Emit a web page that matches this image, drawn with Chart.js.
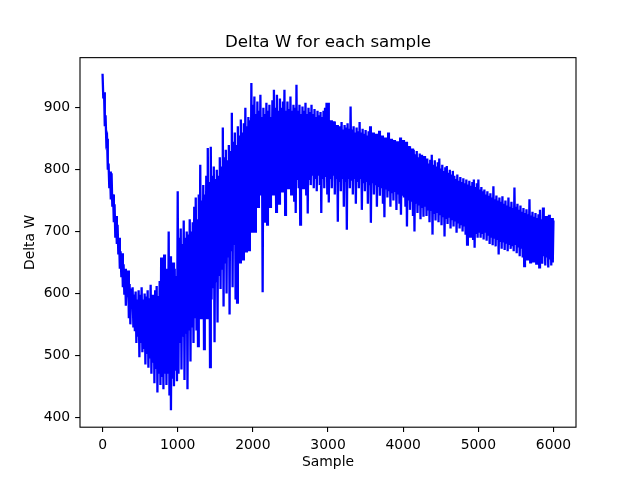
<!DOCTYPE html>
<html>
<head>
<meta charset="utf-8">
<script src="https://cdn.jsdelivr.net/npm/chart.js@4.4.1/dist/chart.umd.min.js"></script>
<style>
  html, body { margin: 0; padding: 0; background: #fff; }
  #wrap { width: 640px; height: 480px; }
</style>
</head>
<body>
<div id="wrap"><canvas id="chart" width="640" height="480"></canvas></div>
<script>
// Delta W: one value per 10 samples, alternating upper / lower swing
const deltaW0 = [
  955, 915, 925, 870, 888, 845, 850, 800, 810, 770, 797, 752, 794, 740, 760, 715, 744, 690, 725, 680,
  711, 663, 690, 640, 668, 626, 665, 610, 647, 598, 640, 580, 625, 594, 637, 560, 615, 550, 608, 575,
  610, 545, 598, 539, 603, 520, 590, 530, 605, 497, 598, 520, 610, 505, 590, 510, 600, 485, 595, 502,
  605, 480, 592, 495, 614, 470, 598, 488, 590, 455, 605, 478, 612, 440, 596, 470, 620, 452, 658, 465,
  610, 445, 663, 470, 620, 452, 640, 470, 700, 435, 660, 411, 625, 462, 650, 450, 640, 475, 628, 458];
const deltaW1000 = [
  765, 470, 690, 520, 705, 477, 680, 530, 718, 460, 690, 535, 700, 445, 695, 540, 720, 490, 700, 545,
  715, 520, 740, 560, 755, 540, 720, 515, 760, 575, 808, 560, 750, 590, 775, 510, 760, 585, 790, 560,
  835, 600, 780, 481, 837, 590, 790, 610, 805, 521, 785, 620, 800, 553, 790, 630, 820, 607, 805, 640,
  868, 579, 820, 650, 832, 600, 815, 660, 840, 566, 830, 670, 892, 610, 845, 680, 860, 590, 840, 585,
  870, 690, 855, 650, 881, 700, 860, 655, 875, 710, 900, 668, 870, 705, 885, 670, 880, 720, 940, 700];
const deltaW2000 = [
  905, 760, 918, 700, 890, 770, 910, 740, 895, 775, 921, 760, 885, 602, 900, 716, 890, 775, 908, 711,
  895, 770, 905, 740, 885, 780, 912, 760, 929, 780, 900, 732, 921, 785, 895, 745, 915, 780, 900, 765,
  910, 785, 929, 727, 895, 780, 910, 770, 898, 785, 918, 760, 895, 780, 905, 750, 900, 730, 937, 785,
  895, 770, 905, 711, 890, 785, 902, 770, 895, 788, 908, 760, 890, 729, 900, 785, 893, 775, 905, 790,
  890, 770, 898, 785, 885, 765, 895, 790, 888, 775, 893, 730, 885, 785, 895, 770, 900, 788, 908, 760];
const deltaW3000 = [
  908, 747, 875, 785, 880, 770, 870, 790, 878, 760, 868, 785, 872, 716, 865, 780, 870, 765, 877, 785,
  865, 740, 872, 780, 868, 703, 875, 785, 866, 770, 902, 782, 865, 760, 870, 785, 860, 745, 868, 780,
  862, 770, 877, 785, 860, 735, 866, 778, 858, 765, 864, 780, 855, 745, 862, 775, 870, 714, 855, 778,
  860, 760, 852, 775, 858, 740, 850, 772, 863, 758, 848, 770, 855, 745, 846, 723, 852, 768, 845, 755,
  860, 765, 843, 740, 850, 762, 842, 750, 848, 764, 840, 735, 846, 760, 838, 745, 852, 727, 840, 758];
const deltaW4000 = [
  848, 755, 835, 740, 845, 708, 832, 750, 838, 735, 828, 748, 834, 725, 832, 700, 825, 745, 830, 730,
  820, 742, 826, 720, 824, 738, 815, 724, 822, 740, 812, 725, 818, 736, 810, 715, 816, 735, 824, 695,
  808, 730, 815, 718, 805, 732, 812, 715, 818, 728, 802, 710, 808, 725, 798, 692, 804, 722, 806, 712,
  795, 724, 800, 705, 792, 720, 798, 708, 790, 718, 785, 698, 792, 715, 782, 705, 788, 712, 780, 700,
  786, 710, 778, 695, 784, 679, 776, 705, 782, 692, 774, 702, 780, 688, 784, 674, 772, 698, 778, 690];
const deltaW5000 = [
  784, 700, 768, 690, 772, 698, 765, 687, 768, 700, 760, 685, 765, 695, 758, 680, 762, 692, 755, 678,
  773, 690, 752, 676, 758, 688, 750, 663, 755, 685, 748, 672, 757, 684, 745, 670, 750, 682, 742, 668,
  755, 680, 740, 672, 748, 678, 738, 668, 771, 680, 740, 665, 745, 676, 735, 660, 742, 674, 732, 658,
  738, 644, 730, 668, 736, 655, 728, 670, 752, 650, 726, 665, 732, 652, 724, 663, 730, 648, 722, 660,
  728, 642, 735, 662, 720, 648, 739, 660, 718, 645, 725, 658, 715, 642, 727, 655, 718, 645, 722, 650];
const lastPoint = [5999, 718];

const sampleStep = 10;
const blockSize = 1000;
const xTicks = [0, 1000, 2000, 3000, 4000, 5000, 6000];
const yTicks = [400, 500, 600, 700, 800, 900];

const blocks = [deltaW0, deltaW1000, deltaW2000, deltaW3000, deltaW4000, deltaW5000];
const points = blocks.flatMap((values, b) =>
  values.map((y, j) => ({ x: b * blockSize + j * sampleStep, y })));
points.push({ x: lastPoint[0], y: lastPoint[1] });

const font = { family: "'DejaVu Sans', sans-serif", size: 13.9 };

const frame = {
  id: "frame",
  afterDraw(chart) {
    const { ctx, chartArea: a } = chart;
    ctx.save();
    ctx.strokeStyle = "#000";
    ctx.lineWidth = 1.1;
    ctx.strokeRect(a.left, a.top, a.right - a.left, a.bottom - a.top);
    ctx.restore();
  },
};

new Chart(document.getElementById("chart"), {
  type: "line",
  data: {
    datasets: [{
      data: points,
      borderColor: "#0000ff",
      borderWidth: 2.3,
      pointRadius: 0,
      tension: 0,
      fill: false,
    }],
  },
  options: {
    responsive: false,
    animation: false,
    events: [],
    layout: { padding: { left: 0, right: 64, top: 0, bottom: 0 } },
    plugins: {
      legend: { display: false },
      tooltip: { enabled: false },
      title: {
        display: true,
        text: "Delta W for each sample",
        color: "#000",
        fullSize: false,
        font: { family: font.family, size: 16.7, weight: "normal" },
        padding: { top: 32.5, bottom: 5.1 },
      },
    },
    scales: {
      x: {
        type: "linear",
        min: -300,
        max: 6299,
        afterFit: (scale) => { scale.height = 52.8; },
        afterBuildTicks: (scale) => { scale.ticks = xTicks.map((value) => ({ value })); },
        grid: { display: true, drawOnChartArea: false, drawTicks: true, tickLength: 4.9, color: "#000", lineWidth: 1.1 },
        border: { display: false },
        ticks: { color: "#000", font, padding: 4.9, maxRotation: 0, autoSkip: false, callback: (v) => String(v) },
        title: { display: true, text: "Sample", color: "#000", font, padding: { top: 0, bottom: 9 } },
      },
      y: {
        type: "linear",
        min: 383.8,
        max: 981,
        afterFit: (scale) => { scale.width = 80; },
        afterBuildTicks: (scale) => { scale.ticks = yTicks.map((value) => ({ value })); },
        grid: { display: true, drawOnChartArea: false, drawTicks: true, tickLength: 4.9, color: "#000", lineWidth: 1.1 },
        border: { display: false },
        ticks: { color: "#000", font, padding: 4.9, autoSkip: false, callback: (v) => String(v) },
        title: { display: true, text: "Delta W", color: "#000", font, padding: { top: 22.5, bottom: 0 } },
      },
    },
  },
  plugins: [frame],
});
</script>
</body>
</html>
